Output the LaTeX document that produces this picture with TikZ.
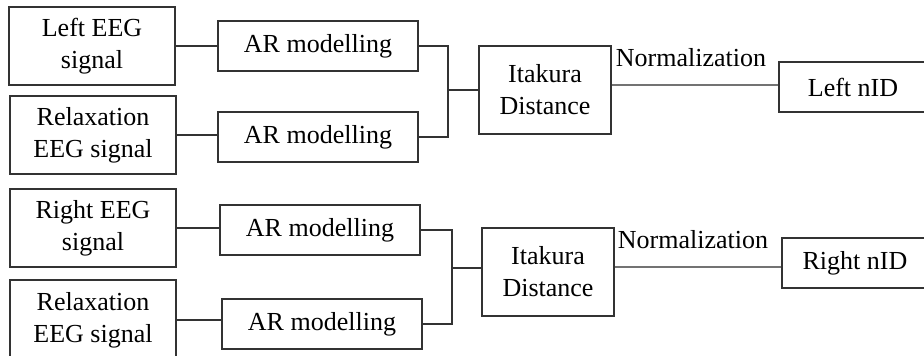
\documentclass[tikz,border=0pt]{standalone}
\usepackage{fontspec}
\setmainfont{Liberation Serif}
\begin{document}
\begin{tikzpicture}[x=1pt,y=-1pt,
  box/.style={draw=black!80, line width=2pt, rectangle, inner sep=0pt,
    align=center, font=\fontsize{26}{32}\selectfont},
  wire/.style={draw=black!80, line width=2pt},
  normwire/.style={draw=black!55, line width=2pt},
  lbl/.style={inner sep=0pt, font=\fontsize{26}{30}\selectfont}]
\useasboundingbox (0,0) rectangle (924,356);

% upper chain: left hemisphere
\node[box, minimum width=166pt, minimum height=78pt] (L1) at (92,46) {Left EEG\\signal};
\node[box, minimum width=166pt, minimum height=78pt] (R1) at (93,135) {Relaxation\\EEG signal};
\node[box, minimum width=200pt, minimum height=50pt] (A1) at (318,46) {AR modelling};
\node[box, minimum width=200pt, minimum height=50pt] (A2) at (318,137) {AR modelling};
\node[box, minimum width=132pt, minimum height=88pt] (I1) at (545,90) {Itakura\\Distance};
\node[box, minimum width=148pt, minimum height=50pt] (N1) at (853,87) {Left nID};
\node[lbl] (T1) at (691,58) {Normalization};
\coordinate (J1) at (448,90);

\draw[wire] (L1.east) -- (L1.east -| A1.west);
\draw[wire] (R1.east) -- (R1.east -| A2.west);
\draw[wire] (A1.east) -| (J1) |- (A2.east);
\draw[wire] (J1) -- (I1.west);
\draw[normwire] ([yshift=2pt]N1.west) -- ([yshift=2pt]N1.west -| I1.east);

% lower chain: right hemisphere
\node[box, minimum width=166pt, minimum height=78pt] (L2) at (93,228) {Right EEG\\signal};
\node[box, minimum width=166pt, minimum height=80pt] (R2) at (93,320) {Relaxation\\EEG signal};
\node[box, minimum width=200pt, minimum height=50pt] (A3) at (320,230) {AR modelling};
\node[box, minimum width=200pt, minimum height=50pt] (A4) at (322,324) {AR modelling};
\node[box, minimum width=132pt, minimum height=88pt] (I2) at (548,272) {Itakura\\Distance};
\node[box, minimum width=146pt, minimum height=50pt] (N2) at (855,263) {Right nID};
\node[lbl] (T2) at (693,240) {Normalization};
\coordinate (J2) at (452,268);

\draw[wire] (L2.east) -- (L2.east -| A3.west);
\draw[wire] (R2.east) -- (R2.east -| A4.west);
\draw[wire] (A3.east) -| (J2) |- (A4.east);
\draw[wire] (J2) -- (J2 -| I2.west);
\draw[normwire] ([yshift=-4pt]N2.west) -- ([yshift=-4pt]N2.west -| I2.east);
\end{tikzpicture}
\end{document}
